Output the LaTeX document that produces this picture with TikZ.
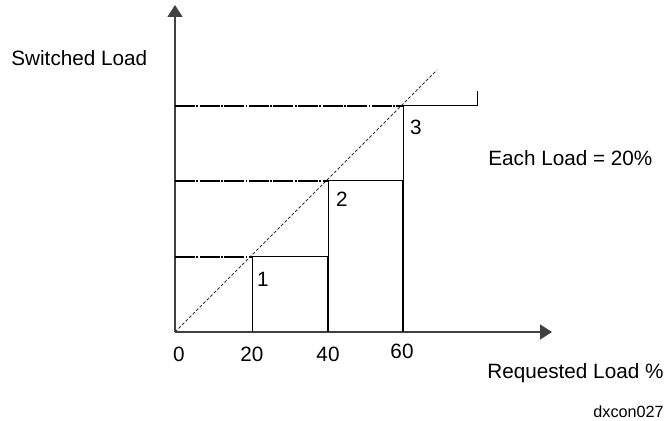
\documentclass[tikz,border=0pt]{standalone}
\usepackage{fontspec}
\setmainfont{Liberation Sans}
\usetikzlibrary{arrows.meta}

\begin{document}
\begin{tikzpicture}[x=0.5pt,y=-0.5pt,
    axis/.style={draw=black!75,line width=0.75pt,-{Triangle[length=6pt,width=7.5pt]}},
    level/.style={line width=0.9pt,dash pattern=on 10pt off 0.7pt on 0.9pt off 0.7pt},
    stair/.style={line width=0.5pt},
    ideal/.style={draw=black!80,line width=0.5pt,dash pattern=on 1.5pt off 1pt},
    every node/.style={inner sep=0pt,font=\fontsize{10.35}{12}\selectfont}]
    \useasboundingbox (0,0) rectangle (670,421);
    \begin{scope}
        \coordinate (O) at (175,332);
        \coordinate (Ytop) at (175,5);
        \coordinate (Xend) at (552,332);
        \coordinate (D) at (437,70);
        \coordinate (L1) at (175,257);
        \coordinate (L2) at (175,181);
        \coordinate (L3) at (175,106);
        \coordinate (P1) at (252,257);
        \coordinate (P2) at (328,181);
        \coordinate (P3) at (403,106);
        \coordinate (Q1) at (328,257);
        \coordinate (Q2) at (403,181);
        \coordinate (Q3) at (477,106);
        \coordinate (T) at (477,91);
        \coordinate (B1) at (252,332);
        \coordinate (B2) at (328,332);
        \coordinate (B3) at (403,332);
    \end{scope}
    \begin{scope}
        \draw[axis] (O) -- (Ytop);
        \draw[axis] (O) -- (Xend);
        \draw[ideal] (O) -- (D);
        \draw[level] (L1) -- (P1);
        \draw[level] (L2) -- (P2);
        \draw[level] (L3) -- (P3);
        \draw[stair] (B1) -- (P1) -- (Q1);
        \draw[stair] (P2) -- (Q2);
        \draw[stair] (P3) -- (Q3) -- (T);
        \draw[stair] (Q1) -- (P2);
        \draw[stair] (Q2) -- (P3);
        \draw[line width=1pt] (Q1) -- (B2);
        \draw[line width=1pt] (Q2) -- (B3);
    \end{scope}
    \node[anchor=base west] (ylabel) at (11,66) {Switched Load};
    \node[anchor=base west] (xlabel) at (487,379) {Requested Load \%};
    \node[anchor=base west] (each) at (488,166) {Each Load = 20\%};
    \node[anchor=base west,font=\fontsize{8.1}{10}\selectfont] (tag) at (593,418) {dxcon027};
    \node[anchor=base] (t0) at (179,362) {0};
    \node[anchor=base] (t20) at (252,362) {20};
    \node[anchor=base] (t40) at (328,362) {40};
    \node[anchor=base] (t60) at (402,359) {60};
    \node[anchor=base] (s1) at (263,287) {1};
    \node[anchor=base] (s2) at (342,207) {2};
    \node[anchor=base] (s3) at (416,135) {3};
\end{tikzpicture}
\end{document}
